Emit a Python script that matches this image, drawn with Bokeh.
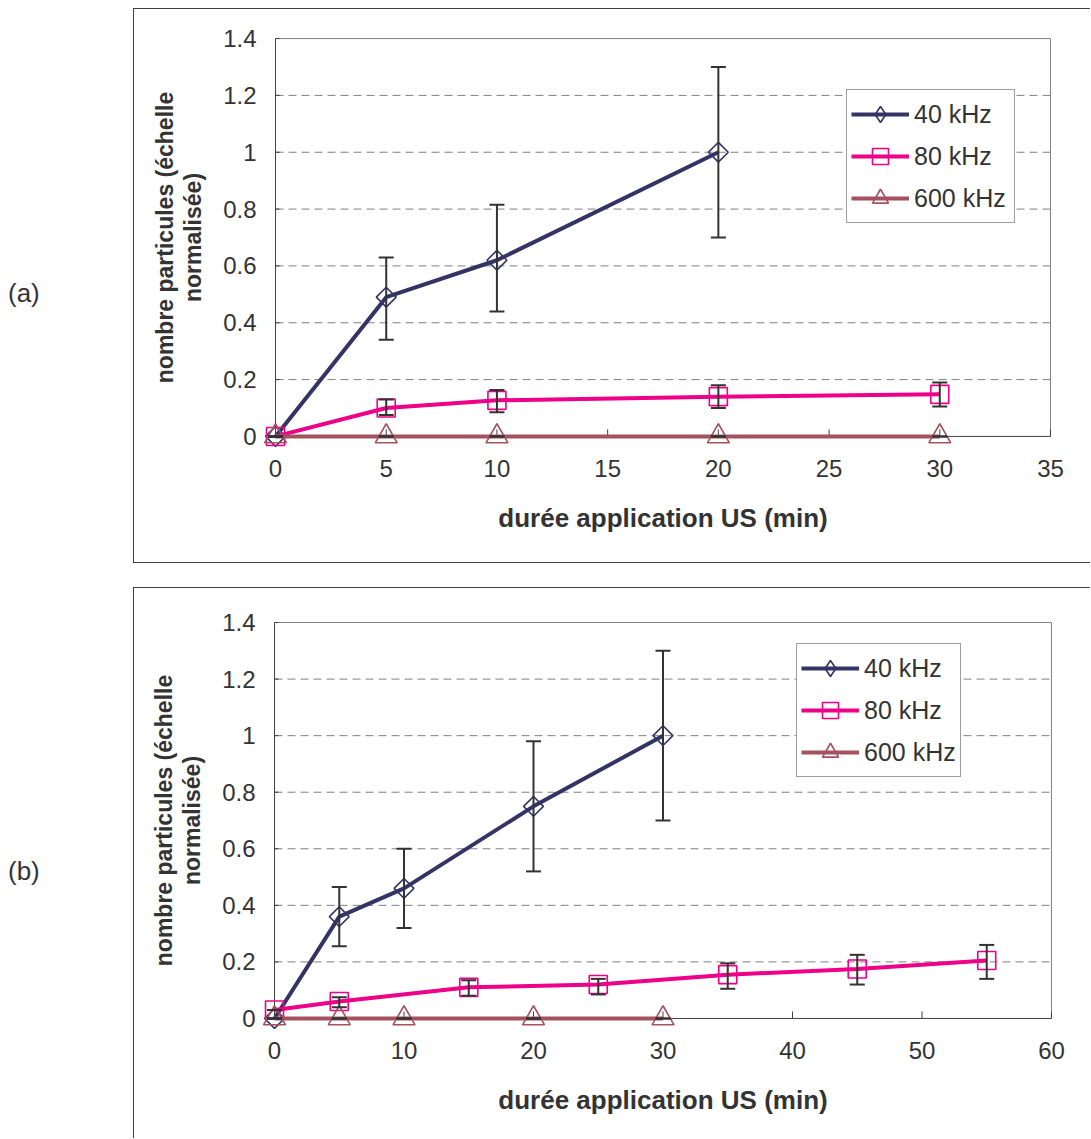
from bokeh.plotting import figure
from bokeh.models import (ColumnDataSource, Whisker, TeeHead, Legend, LegendItem,
                          Range1d, FixedTicker, PrintfTickFormatter, Div, Spacer)
from bokeh.layouts import row, column
from bokeh.embed import file_html
from bokeh.resources import INLINE

# ---------------- data ----------------
series_names = ["40 kHz", "80 kHz", "600 kHz"]
series_colors = ["#333366", "#EE0088", "#A5525F"]
y_ticks = [0, 0.2, 0.4, 0.6, 0.8, 1.0, 1.2, 1.4]

# panel (a)
a_x_ticks = [0, 5, 10, 15, 20, 25, 30, 35]
a_x_40 = [0, 5, 10, 20]
a_y_40 = [0, 0.49, 0.62, 1.0]
a_lo_40 = [0, 0.34, 0.44, 0.70]
a_hi_40 = [0, 0.63, 0.815, 1.30]
a_x_80 = [0, 5, 10, 20, 30]
a_y_80 = [0, 0.10, 0.127, 0.14, 0.148]
a_lo_80 = [0, 0.075, 0.085, 0.10, 0.105]
a_hi_80 = [0, 0.13, 0.163, 0.18, 0.19]
a_x_600 = [0, 5, 10, 20, 30]
a_y_600 = [0, 0, 0, 0, 0]
a_lo_600 = [0, 0, 0, 0, 0]
a_hi_600 = [0, 0, 0, 0, 0]

# panel (b)
b_x_ticks = [0, 10, 20, 30, 40, 50, 60]
b_x_40 = [0, 5, 10, 20, 30]
b_y_40 = [0.0, 0.36, 0.46, 0.75, 1.0]
b_lo_40 = [0.0, 0.255, 0.32, 0.52, 0.70]
b_hi_40 = [0.0, 0.465, 0.60, 0.98, 1.30]
b_x_80 = [0, 5, 15, 25, 35, 45, 55]
b_y_80 = [0.03, 0.06, 0.11, 0.12, 0.155, 0.175, 0.205]
b_lo_80 = [0.03, 0.04, 0.08, 0.085, 0.105, 0.12, 0.14]
b_hi_80 = [0.03, 0.075, 0.135, 0.14, 0.195, 0.225, 0.26]
b_x_600 = [0, 5, 10, 20, 30]
b_y_600 = [0, 0, 0, 0, 0]
b_lo_600 = [0, 0, 0, 0, 0]
b_hi_600 = [0, 0, 0, 0, 0]

x_label = "durée application US (min)"
y_label = "nombre particules (échelle\nnormalisée)"

# ---------------- styling ----------------
FONT = "Liberation Sans"
TXT = "#333333"
AXC = "#404040"
GRIDC = "#808080"
PAD = 16      # px of frame beyond the plot area, left/right
PADY = 14     # px of frame beyond the plot area, top/bottom
XTICK = 7     # inward x tick length, px
YTICK = 4     # inward y tick length, px


def make_panel(x_ticks, series, geom, legend_loc, label_width, borders):
    x_end = x_ticks[-1]
    y_end = y_ticks[-1]
    pxx = geom["plot_w"] / x_end
    pxy = geom["plot_h"] / y_end
    frame_w = geom["plot_w"] + 2 * PAD
    frame_h = geom["plot_h"] + 2 * PADY
    left = geom["ox"] - PAD
    top = geom["oy"] - geom["plot_h"] - PADY
    bottom = geom["canvas_h"] - (top + frame_h)
    right = geom["canvas_w"] - left - frame_w
    p = figure(
        x_range=Range1d(-PAD / pxx, x_end + PAD / pxx),
        y_range=Range1d(-PADY / pxy, y_end + PADY / pxy),
        frame_width=frame_w, frame_height=frame_h,
        min_border_left=left, min_border_right=right,
        min_border_top=top, min_border_bottom=bottom,
        output_backend="svg", toolbar_location=None,
        background_fill_color="white", border_fill_color="white",
        outline_line_color=None,
    )
    p.extra_y_ranges = {"proxy": Range1d(1000, 1001)}
    p.styles = borders
    p.xgrid.visible = False
    p.ygrid.visible = False

    # plot-area grid and frame lines
    gy = y_ticks[1:-1]
    p.segment(x0=[0] * len(gy), x1=[x_end] * len(gy), y0=gy, y1=gy,
              line_color=GRIDC, line_width=1, line_dash="8 5")
    p.segment(x0=[0, x_end], x1=[x_end, x_end], y0=[y_end, 0], y1=[y_end, y_end],
              line_color=GRIDC, line_width=1)
    # axis lines at x=0 / y=0 and inward ticks
    p.segment(x0=[0, 0], x1=[x_end, 0], y0=[0, 0], y1=[0, y_end],
              line_color=AXC, line_width=1)
    p.segment(x0=x_ticks, x1=x_ticks, y0=[0] * len(x_ticks),
              y1=[XTICK / pxy] * len(x_ticks), line_color=AXC, line_width=1)
    p.segment(x0=[0] * len(y_ticks), x1=[YTICK / pxx] * len(y_ticks),
              y0=y_ticks, y1=y_ticks, line_color=AXC, line_width=1)

    # axes (labels only; lines drawn above)
    for ax in (p.xaxis[0], p.yaxis[0]):
        ax.axis_line_color = None
        ax.major_tick_line_color = None
        ax.minor_tick_line_color = None
        ax.major_tick_in = 0
        ax.major_tick_out = 0
        ax.major_label_text_font = FONT
        ax.major_label_text_font_size = "24px"
        ax.major_label_text_color = TXT
        ax.axis_label_text_font = FONT
        ax.axis_label_text_font_style = "bold"
        ax.axis_label_text_color = TXT
    p.xaxis.ticker = FixedTicker(ticks=x_ticks)
    p.yaxis.ticker = FixedTicker(ticks=y_ticks)
    p.xaxis.formatter = PrintfTickFormatter(format="%g")
    p.yaxis.formatter = PrintfTickFormatter(format="%g")
    p.xaxis.major_label_standoff = 23 - PADY
    p.yaxis.major_label_standoff = 19 - PAD
    p.xaxis.axis_label = x_label
    p.yaxis.axis_label = y_label
    p.xaxis.axis_label_text_font_size = "26px"
    p.yaxis.axis_label_text_font_size = "23px"
    p.yaxis.axis_label_text_line_height = 1.1
    p.xaxis.axis_label_standoff = 23
    p.yaxis.axis_label_standoff = 14

    markers = [("square", 14, 0.785398), ("square", 18, 0.0), ("triangle", 22, 0.0)]
    legend_markers = [("diamond", 16), ("square", 14), ("triangle", 18)]
    items = []
    for (name, color, (mk, sz, ang), (lmk, lsz), (xs, ys, lo, hi)) in zip(
            series_names, series_colors, markers, legend_markers, series):
        src = ColumnDataSource(dict(x=xs, y=ys, lower=lo, upper=hi))
        ln = p.line("x", "y", source=src, line_color=color, line_width=4)
        p.scatter("x", "y", source=src, marker=mk, size=sz, angle=ang,
                  line_color=color, fill_color=None, line_width=1.6)
        # legend swatch marker (lives on an out-of-view range, so only the legend shows it)
        lg = p.scatter("x", "y", source=src, marker=lmk, size=lsz, y_range_name="proxy",
                       line_color=color, fill_color=None, line_width=1.6)
        w = Whisker(base="x", lower="lower", upper="upper", source=src,
                    line_color=TXT, line_width=2, level="overlay",
                    upper_head=TeeHead(size=15, line_color=TXT, line_width=2),
                    lower_head=TeeHead(size=15, line_color=TXT, line_width=2))
        p.add_layout(w)
        items.append(LegendItem(label=name, renderers=[ln, lg]))

    leg = Legend(items=items, location=legend_loc, margin=0, padding=4, spacing=2,
                 glyph_width=58, glyph_height=40, label_height=24, label_standoff=5,
                 label_width=label_width,
                 label_text_font=FONT, label_text_font_size="25px", label_text_color=TXT,
                 border_line_color=AXC, border_line_width=1, background_fill_color="white",
                 background_fill_alpha=1.0)
    p.add_layout(leg, "center")
    return p


geom_a = dict(ox=141, oy=425, plot_w=774, plot_h=396, canvas_w=956, canvas_h=553)
geom_b = dict(ox=140, oy=429, plot_w=776, plot_h=395, canvas_w=956, canvas_h=550)

series_a = [(a_x_40, a_y_40, a_lo_40, a_hi_40),
            (a_x_80, a_y_80, a_lo_80, a_hi_80),
            (a_x_600, a_y_600, a_lo_600, a_hi_600)]
series_b = [(b_x_40, b_y_40, b_lo_40, b_hi_40),
            (b_x_80, b_y_80, b_lo_80, b_hi_80),
            (b_x_600, b_y_600, b_lo_600, b_hi_600)]

p_a = make_panel(a_x_ticks, series_a, geom_a, (587, 227), 96,
                 {"border-top": "1px solid #404040", "border-left": "1px solid #404040",
                  "border-bottom": "1px solid #404040"})
p_b = make_panel(b_x_ticks, series_b, geom_b, (538, 255), 92,
                 {"border-top": "1px solid #404040", "border-left": "1px solid #404040"})

lab_style = "font-family:'Liberation Sans';font-size:26px;color:#333333;padding-left:8px;"
div_a = Div(text=f"<div style=\"{lab_style}margin-top:267px\">(a)</div>",
            width=133, height=555, margin=0)
div_b = Div(text=f"<div style=\"{lab_style}margin-top:266px\">(b)</div>",
            width=133, height=551, margin=0)

layout = column(Spacer(height=8), row(div_a, p_a), Spacer(height=24), row(div_b, p_b))

html = file_html(layout, INLINE, title="chart")
with open("out.html", "w") as f:
    f.write(html)
